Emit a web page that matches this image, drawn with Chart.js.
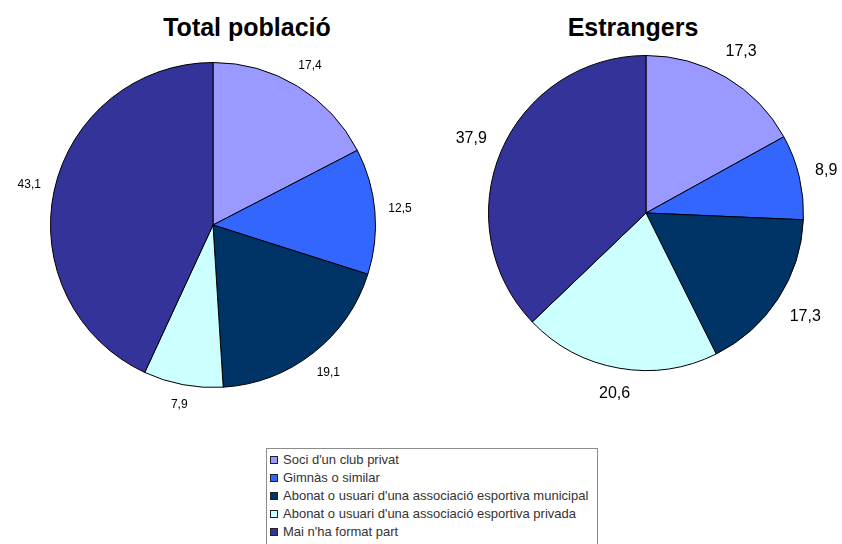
<!DOCTYPE html>
<html>
<head>
<meta charset="utf-8">
<script src="https://cdn.jsdelivr.net/npm/chart.js@4"></script>
<style>
  body { margin: 0; background: #fff; width: 842px; height: 544px; overflow: hidden; position: relative; font-family: "Liberation Sans", Arial, sans-serif; }
  canvas { position: absolute; }
  .title { position: absolute; font-weight: bold; font-size: 25px; color: #000; white-space: nowrap; transform: translateX(-50%); }
  #legend { position: absolute; left: 266px; top: 448px; width: 332px; height: 120px; border: 1px solid #8c8c8c; box-sizing: border-box; padding-top: 2px; }
  .legend-item { height: 18px; line-height: 18px; font-size: 13px; color: #333; white-space: nowrap; position: relative; padding-left: 16px; }
  .legend-color { position: absolute; left: 3px; top: 5px; width: 6px; height: 6px; border: 1px solid #222; }
</style>
</head>
<body>
<div class="title" style="left:247px; top:13px;">Total població</div>
<div class="title" style="left:633px; top:13px;">Estrangers</div>
<canvas id="totalChart" width="430" height="440" style="left:0; top:0;"></canvas>
<canvas id="foreignChart" width="396" height="440" style="left:446px; top:0;"></canvas>
<div id="legend"></div>
<script>
const categories = [
    "Soci d'un club privat",
    "Gimnàs o similar",
    "Abonat o usuari d'una associació esportiva municipal",
    "Abonat o usuari d'una associació esportiva privada",
    "Mai n'ha format part"
];
const totalValues = [17.4, 12.5, 19.1, 7.9, 43.1];
const foreignValues = [17.3, 8.9, 17.3, 20.6, 37.9];
const colors = ['#9999FF', '#3366FF', '#003366', '#CCFFFF', '#333399'];

// labels just outside each slice, at its middle angle
const outsideLabels = {
    id: 'outsideLabels',
    afterDatasetsDraw(chart, args, opts) {
        const ctx = chart.ctx;
        const values = chart.data.datasets[0].data;
        ctx.save();
        ctx.font = opts.size + 'px "Liberation Sans", Arial, sans-serif';
        ctx.fillStyle = '#000';
        ctx.textAlign = 'center';
        ctx.textBaseline = 'middle';
        chart.getDatasetMeta(0).data.forEach((arc, i) => {
            const p = arc.getProps(['x', 'y', 'startAngle', 'endAngle', 'outerRadius'], true);
            const mid = (p.startAngle + p.endAngle) / 2;
            const text = values[i].toFixed(1).replace('.', ',');
            const w = ctx.measureText(text).width;
            const c = Math.cos(mid), s = Math.sin(mid);
            const d = p.outerRadius + opts.gap + (w / 2) * Math.abs(c) + (opts.size / 2) * Math.abs(s);
            ctx.fillText(text, p.x + c * d, p.y + s * d);
        });
        ctx.restore();
    }
};

function makePie(id, values, padding, labelSize, gap) {
    return new Chart(document.getElementById(id), {
        type: 'pie',
        data: {
            labels: categories,
            datasets: [{
                data: values,
                backgroundColor: colors,
                borderColor: '#000',
                borderWidth: 1
            }]
        },
        options: {
            responsive: false,
            animation: false,
            layout: { padding: padding },
            plugins: {
                legend: { display: false },
                tooltip: { enabled: false },
                outsideLabels: { size: labelSize, gap: gap }
            }
        },
        plugins: [outsideLabels]
    });
}

makePie('totalChart', totalValues, { left: 50, right: 54, top: 62, bottom: 52 }, 12, 13);
makePie('foreignChart', foreignValues, { left: 42, right: 38, top: 55, bottom: 69 }, 16, 15);

const legendDiv = document.getElementById('legend');
categories.forEach((cat, index) => {
    legendDiv.innerHTML += `
        <div class="legend-item">
            <div class="legend-color" style="background:${colors[index]};"></div>${cat}
        </div>`;
});
</script>
</body>
</html>
